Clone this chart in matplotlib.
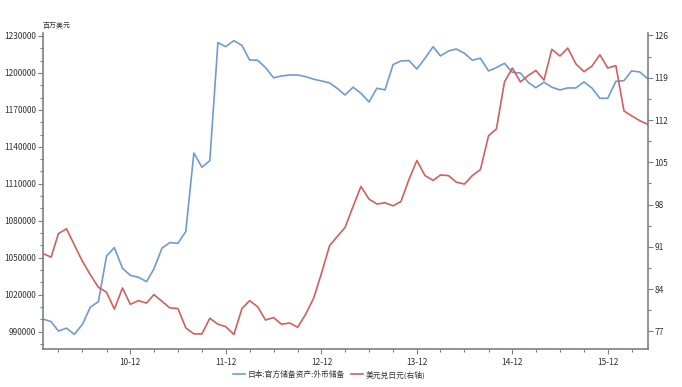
import matplotlib
matplotlib.use("Agg")
import matplotlib.pyplot as plt
import matplotlib.dates as mdates
import matplotlib.ticker as mticker
import pandas as pd

plt.rcParams['font.family'] = ['Noto Sans CJK SC', 'DejaVu Sans']

# 月度数据 2010-01 ~ 2016-05
months = pd.date_range("2010-01-01", periods=77, freq="MS")

# 日本:官方储备资产:外币储备 (百万美元)
reserves = [
    1000300, 998100, 990500, 992800, 987800, 996000, 1009800, 1014400, 1051400, 1058200,
    1041400, 1035700, 1034100, 1030600, 1040800, 1057700, 1062300, 1061700, 1071200, 1135000,
    1123400, 1128800, 1224600, 1221300, 1226200, 1222300, 1210500, 1210300, 1204300, 1196000,
    1197500, 1198300, 1198300, 1197000, 1194900, 1193500, 1191900, 1187200, 1182100, 1188400,
    1183500, 1176400, 1187600, 1186200, 1206800, 1209700, 1210000, 1203200, 1211900, 1221300,
    1213800, 1217800, 1219400, 1215900, 1210300, 1211900, 1201600, 1204300, 1207800, 1200500,
    1199900, 1192100, 1188000, 1192400, 1188400, 1186200, 1187800, 1187800, 1192700, 1187800,
    1179400, 1179400, 1193200, 1193700, 1201600, 1200800, 1195400,
]

# 美元兑日元 (右轴)
usdjpy = [
    89.9, 89.3, 93.2, 94.0, 91.3, 88.6, 86.4, 84.3, 83.5, 80.7,
    84.2, 81.5, 82.1, 81.7, 83.1, 82.0, 80.9, 80.8, 77.6, 76.6,
    76.6, 79.2, 78.2, 77.8, 76.5, 80.8, 82.1, 81.1, 78.9, 79.3,
    78.2, 78.4, 77.7, 79.8, 82.5, 86.6, 91.2, 92.8, 94.2, 97.7,
    101.0, 98.9, 98.1, 98.3, 97.8, 98.5, 102.2, 105.3, 102.8, 102.0,
    102.9, 102.8, 101.7, 101.4, 102.8, 103.8, 109.4, 110.5, 118.3, 120.6,
    118.3, 119.4, 120.2, 118.6, 123.7, 122.6, 123.9, 121.3, 120.0, 120.9,
    122.8, 120.6, 121.0, 113.5, 112.7, 111.9, 111.3,
]

left_ticks = [990000, 1020000, 1050000, 1080000, 1110000, 1140000, 1170000, 1200000, 1230000]
right_ticks = [77, 84, 91, 98, 105, 112, 119, 126]

blue = "#6f9bd2"
red = "#d0605f"
axis_grey = "#7f7f7f"
txt = "#333333"

fig = plt.figure(figsize=(6.82, 3.87), dpi=100)
ax = fig.add_axes([43/682, 1-349/387, (647.5-43)/682, (349-33)/387])
ax2 = ax.twinx()

l1, = ax.plot(months, reserves, color=blue, lw=1.2, label="日本:官方储备资产:外币储备")
l2, = ax2.plot(months, usdjpy, color=red, lw=1.2, label="美元兑日元(右轴)")

ax.set_xlim(months[0], months[-1])

ax.xaxis.set_major_locator(mdates.MonthLocator(bymonth=12))
ax.xaxis.set_minor_locator(mdates.MonthLocator(bymonth=[3, 6, 9]))
ax.xaxis.set_major_formatter(mdates.DateFormatter("%y-%m"))

ax.set_yticks(left_ticks)
ax.set_yticks(range(980000, 1232400, 10000), minor=True)
ax.yaxis.set_major_formatter(mticker.FuncFormatter(lambda v, p: f"{v:.0f}"))
ax.set_ylim(975900, 1232400)

ax2.set_yticks(right_ticks)
ax2.set_yticks([73.5 + 7*k for k in range(8)], minor=True)
ax2.yaxis.set_major_formatter(mticker.FuncFormatter(lambda v, p: f"{v:.0f}"))
ax2.set_ylim(74.1, 126.4)

for a in (ax, ax2):
    a.spines['top'].set_visible(False)
    for s in ('left', 'right', 'bottom'):
        a.spines[s].set_color(axis_grey)
        a.spines[s].set_linewidth(1.2)
    a.tick_params(which='major', length=3.5, width=0.8, color=axis_grey,
                  labelsize=6, labelcolor=txt, pad=1.5)
    a.tick_params(which='minor', length=2.5, width=0.8, color=axis_grey)

ax.spines['right'].set_visible(False)
ax2.spines['left'].set_visible(False)
ax2.spines['bottom'].set_visible(False)
ax.tick_params(axis='x', which='major', pad=3)

fig.text(43/682, 1-26/387, "百万美元", fontsize=5, color=txt, ha='left', va='center')

fig.legend(handles=[l1, l2], loc='center', bbox_to_anchor=(329/682, 1-375/387),
           ncol=2, frameon=False, fontsize=5.6, handlelength=1.6, handletextpad=0.3,
           columnspacing=0.8, labelcolor=txt)

fig.savefig("out.png", dpi=100)
